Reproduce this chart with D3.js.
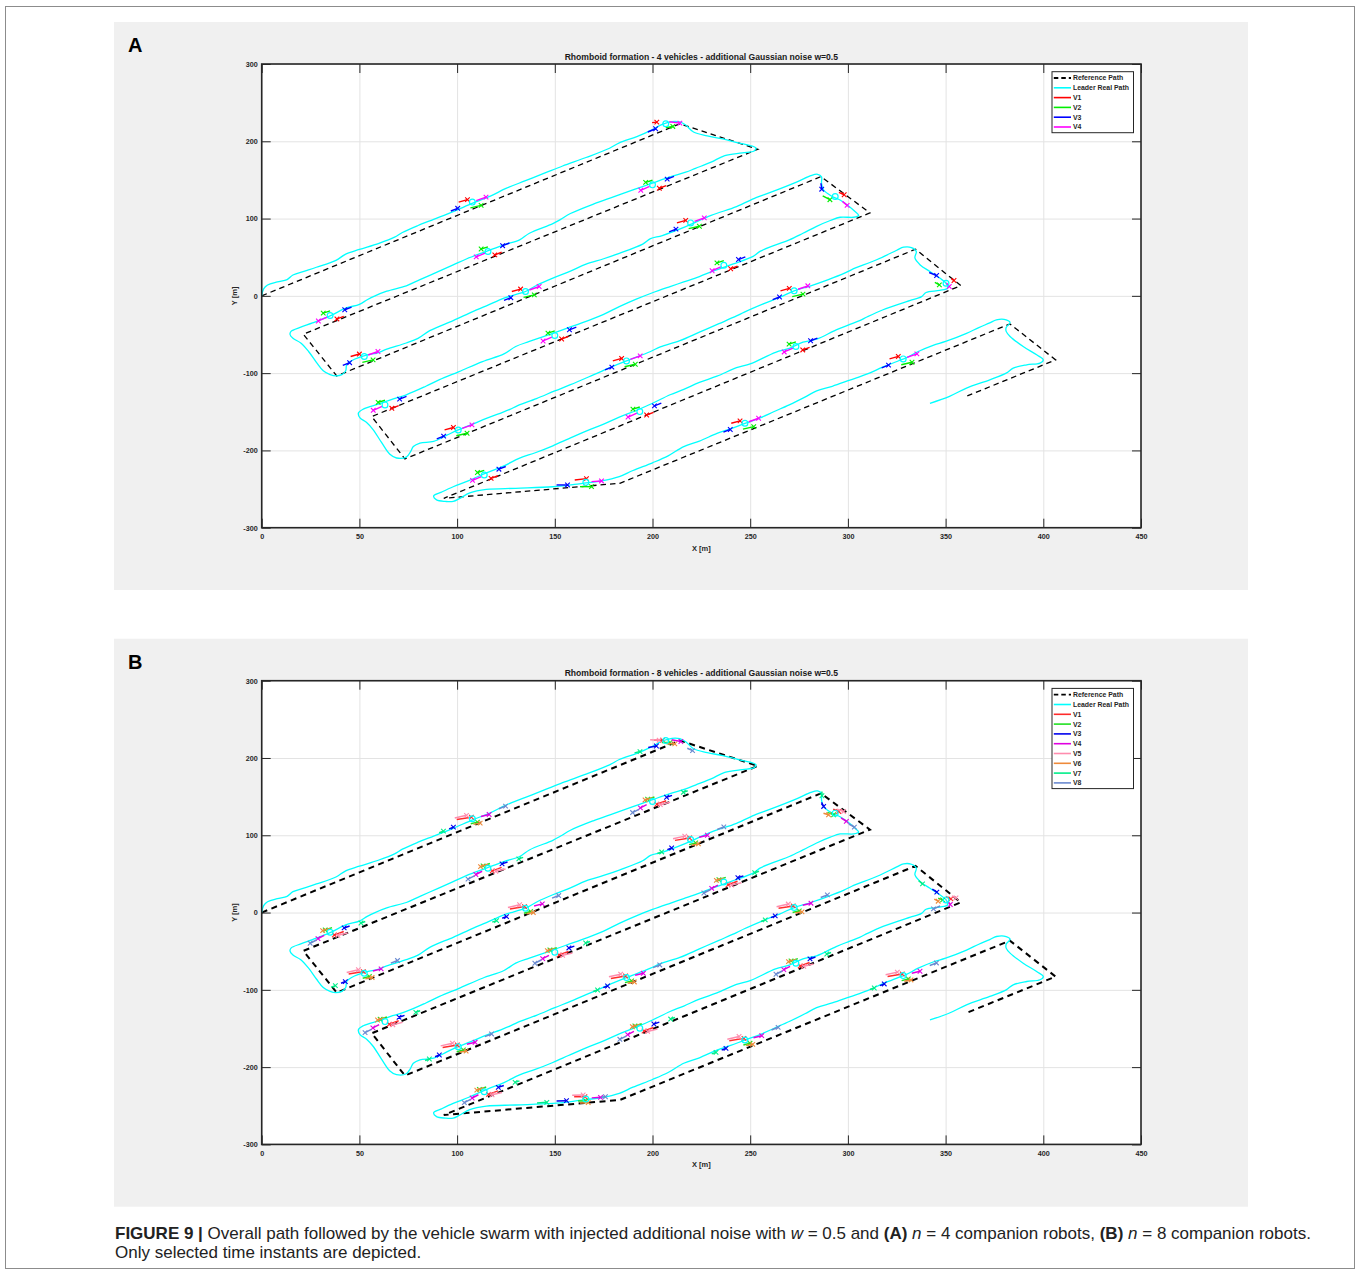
<!DOCTYPE html>
<meta charset="utf-8">
<style>
body { margin: 0; background: #fff; }
svg { display: block; font-family: "Liberation Sans", Arial, sans-serif; }
.lbl text { font-weight: bold; font-size: 7.2px; fill: #262626; }
.grid line { stroke: #e3e3e3; stroke-width: 1px; }
.ticks line { stroke: #262626; stroke-width: 1px; }
</style>
<body>
<script src="https://cdn.jsdelivr.net/npm/d3@7"></script>
<script>
var xTicks = [0, 50, 100, 150, 200, 250, 300, 350, 400, 450];
var yTicks = [-300, -200, -100, 0, 100, 200, 300];

// planned lawnmower path (dashed)
var refPath = [[0,0],[214,222.6],[253.9,189.7],[21.3,-49.6],[38.4,-103.6],[286.2,154.3],[311.3,107.3],
  [56.3,-156.2],[73.3,-211],[334.6,60.3],[357.8,13.2],[93.2,-262],[183.3,-242.5],[382.9,-36.3],
  [406.3,-82.9],[361.1,-129.5]];

// leader real path (cyan)
var leaderPath = [[0,0],[1,9],[3,14],[8,18],[13,21],[16,27],[22,32],[28,37],[38,46],[43,54],[50,60],[60,68],
  [68,76],[72,82],[80,91],[88,99],[98,109],[108,120],[117,129],[125,139],[135,149],[145,159],[154,168],
  [166,179],[178,191],[183,198],[192,206],[200,215],[205,222],[210,225.5],[214,225],[217,221],[221,212],
  [228,207],[236,203],[244,198],[250,194.5],[253,191],[252,187.5],[246,185],[237,181.5],[230,173],[222,165],
  [217,160],[209,154],[200,146],
  [190,137],[180,128],[170,119],[158,106.5],[153,99],[149,93.5],[137,81],[132,72.5],[124,66],[115,57.5],
  [105,48],[98,40],[90,31],[81,21],[74,13],[64,6],[58,0],[54,-5],[50,-11],[43,-16],[35,-26],[26,-35],
  [20,-40.5],[15,-46],[14.5,-50],[16,-55],[20,-61],[24,-72],[28,-86],[31.5,-97],[35,-102],[38,-103.6],
  [41,-102],[43,-97],[43.5,-89],[46,-84],
  [54,-76.5],[59,-74],[64,-69],[74,-61],[80,-55],[86,-45],[98,-32],[108,-20.5],[115,-13],[124,-3],[129,1],
  [135,5.6],[141,14],[149,23],[158,32],[166,41],[175,48],[183,55],[195,67],[199,74],[205,78],[217,89.5],
  [230,104],[243,115.5],[253,127],[260,133.5],[274,147.5],[281,155.5],[284.5,157.3],[286.5,154],[286.5,146],
  [287.5,137],[292,128.5],[296,124],[299.5,118],[303.5,109.5],[305.5,104],[303,101.7],[296,101.7],[291,97.5],
  [284,90],[277,81],[270,72.5],[262,65],[255,57.5],[251.5,51],[241,41],[232,33],[224,25],[216,18],[209,12],
  [200,4],[192,-4],[183,-14],[175,-24],[166,-33],[156,-42],[149,-48.5],[137,-59],[130,-65.5],[124,-75],
  [113,-85],[101,-98],[91,-108.5],[84,-117],[74,-128],[67,-133.5],[60.5,-139.5],[52,-146.5],[49.5,-151.5],
  [50.3,-158],[53.7,-163.8],[57,-173],[61.4,-190],[65.6,-205],[69,-209.8],[74,-208.6],[76.2,-201.5],
  [77.6,-195],[81,-190.5],[88,-188.4],
  [95,-180],[100.6,-173.5],[108,-166],[115,-158.5],[122,-152],[127,-147],[131,-142],[140.6,-133],[150,-123],
  [158,-115],[170,-102],[180,-91],[186.7,-84.2],[199,-72],[204,-66],[214,-58],[224,-47],[234,-36],[243,-26],
  [247,-21],[257,-10],[265,-2],[272.5,6.5],[281,13],[290,21],[298,29],[302,34],[315,47],[325,59],[328.5,63],
  [332.5,62.5],[335,57.5],[334.3,49],[337,40],[342,31.5],[347,23],[350.5,15.5],[351,10],[347,7],[340,4.3],
  [337.7,-1],
  [332,-6],[327,-10],[318,-18],[310,-27],[306,-32],[301,-37],[294,-44],[284,-56],[277,-60],[270,-68],
  [263,-73],[250,-88],[243,-93],[233,-104],[224,-112],[216,-121],[209,-128],[200,-139],[192,-148],[183,-157],
  [175,-166],[166,-175],[157,-185],[149,-194],[140,-203],[132,-210],[124,-220],[115,-229],[106,-239],
  [98,-247],[92,-254],[88,-259],[89.5,-264],[94,-266],[98,-266],[101.4,-262],[106.5,-255],[115,-250.5],
  [130,-249],[149,-247],[160,-244],[166,-242],[174,-239.5],
  [183,-234],[190,-226],[200,-216],[208,-207],[216,-195],[224,-188],[233,-178],[240,-172],[247.3,-165],
  [255,-158],[262,-150],[270,-141],[278,-131],[284,-123],[292,-117],[301,-109],[310,-101],[318,-92],
  [326,-84],[330,-80],[336,-72],[343.6,-64],[350,-59],[360.7,-48.5],[367,-41],[372.6,-35],[376,-31],
  [381,-31],[383,-34.5],[381,-41],[381,-46],[383,-52.5],[389.7,-65.5],[396.6,-76.3],[400,-82.8],[398.3,-87],
  [391.5,-89.2],[384.6,-93.5],[381,-100],[372.6,-108.6],[360.7,-119.4],[352,-130],[342,-139]];

// selected time instants: leader position and travel direction
var instX = [107.8,206.8,200,115.8,35,293.5,219.5,135,52.5,236.5,150,63.1,272.5,186.7,100.6,350.2,273.4,193.5,113.9,165.9,247.3,328.3];
var instY = [121.3,222.6,143.6,57.4,-25.5,128.6,94.4,5.6,-78.5,39.5,-51.4,-141.1,6.5,-84.2,-173.5,16.4,-65.6,-149.8,-231.8,-241.3,-164.9,-81.6];
var instDir = ['UR','TOP','DL','DL','DL','C34','UR','UR','UR','DL','DL','DL','UR','UR','UR','C56','DL','DL','DL','BOT','UR','UR'];

// companion positions relative to the leader: [trail x, trail y, vehicle x, vehicle y]
var formA_UR  = [[-7,0,-2.5,3.2],[-1,-7.5,4.5,-4.3],[-11,-11.5,-7.5,-8],[2,2,7,6.5]];
var formA_DL  = [[7,-1,3.5,-4.4],[0,6,-3.5,3.2],[11,11,7.5,7.5],[-1.5,-2,-6,-7]];
var formA_TOP = [[-7,1.5,-4.6,2.2],[0,-5,3.6,-3.4],[-9.2,-10.6,-5.2,-6.4],[1.8,2.6,7.2,0.9]];
var formA_C34 = [[1.9,5.2,4.6,2.2],[-6.4,0.9,-2.7,-4.2],[-7.3,17.1,-6.9,9.4],[3.7,-6.4,6.1,-11.5]];
var formA_C56 = [[2.8,5.2,4.1,3.5],[-5.7,0.9,-3.4,-2.2],[-8.6,13.8,-4.8,9.9],[0.3,0,1.7,-4.3]];
var formA_BOT = [[-5.7,3,0.3,4.8],[-3,-5.6,2.9,-5.6],[-15,-3.4,-9.4,-3.4],[2.9,0.9,8,1.8]];

var formB_UR  = [[-8,-1,-0.5,2.1],[-0.8,-6.5,2.6,-4.3],[-11.9,-13,-9.7,-10.8],[4.4,3,8.6,5.6],
                 [-9,1,-3,4.5],[0.6,-7.2,4,-5.6],[-17,-18,-14.8,-16],[13.6,13,17,16.4]];
var formB_DL  = [[7,1,2.2,-3.5],[1,6,-2.5,3],[10,8,7.2,5.6],[-3,-4,-6.2,-8.2],
                 [9,-1,4,-4],[0,5,-3.8,2.1],[18,14,15.8,12],[-7,-10,-10.2,-14.2]];
var formB_TOP = [[-6,0.4,-1.7,0.4],[-2,-2.6,2.2,-2.6],[-9,-9,-4.8,-7.1],[3,1,7.7,-1.3],
                 [-8,1,-3.4,0.4],[0,-4,4.6,-4.3],[-16,-16,-13.2,-14.3],[11,-10,13.7,-13]];
var formB_C34 = [[-1,5,1.8,2.2],[-4,1,-0.8,-2.1],[-7,14,-5.9,8.7],[3,-6,5.7,-10.7],
                 [1,5,4.3,2.2],[-6,0,-3.4,-2.1],[-6.8,28,-6.8,22.5],[7,-14,9.8,-18.1]];
var formB_C56 = [[0,4,2.5,1.3],[-4,2,-1.7,0],[-7,14,-4.7,10],[1,-2,2.2,-6],
                 [3,5,5.1,2.6],[-6,1,-4,-1.7],[-14,25,-12,20.7],[-3,-8,-6.4,-11.6]];
var formB_BOT = [[-6,3,-0.5,3],[-4,-2.5,0,-2.5],[-15,-2.5,-9.9,-2.1],[3,1.5,7.5,2.2],
                 [-7,5,-1.4,5.2],[-3,-5,1.2,-4.7],[-25,-5,-20,-4.3],[8,2.5,10,3]];

var namesA = ['V1','V2','V3','V4'];
var colorsA = ['#ff0000','#00ee00','#0000ff','#ff00ff'];
var namesB = ['V1','V2','V3','V4','V5','V6','V7','V8'];
var colorsB = ['#ff2a2a','#22e022','#0000ee','#e000e0','#ff8cae','#ee8a3a','#00ee88','#6a8ad0'];

var width = 1360, height = 1286;

var svg = d3.select("body").append("svg")
    .attr("width", width)
    .attr("height", height);

// figure frame
svg.append("rect")
    .attr("x", 5.5).attr("y", 6.5)
    .attr("width", 1349).attr("height", 1262)
    .attr("fill", "none").attr("stroke", "#8c8c8c").attr("stroke-width", 1);

function drawPanel(top, letter, title, names, colors, form, refWidth, vehWidth) {
  svg.append("rect")
      .attr("x", 114).attr("y", top - 42)
      .attr("width", 1134).attr("height", 568)
      .attr("fill", "#f0f0f0");

  svg.append("text")
      .attr("x", 128).attr("y", top - 12)
      .attr("font-size", 20).attr("font-weight", "bold")
      .text(letter);

  var x = d3.scaleLinear().domain([0, 450]).range([261.7, 1141]);
  var y = d3.scaleLinear().domain([-300, 300]).range([top + 463.7, top]);
  var x0 = x(0), x1 = x(450), y0 = y(-300), y1 = y(300);

  svg.append("rect")
      .attr("x", x0).attr("y", y1)
      .attr("width", x1 - x0).attr("height", y0 - y1)
      .attr("fill", "#fff");

  // grid
  svg.append("g").attr("class", "grid")
      .attr("transform", "translate(0," + y0 + ")")
      .call(d3.axisBottom(x).tickValues(xTicks).tickSize(-(y0 - y1)).tickFormat(""))
      .call(g => g.select(".domain").remove());
  svg.append("g").attr("class", "grid")
      .attr("transform", "translate(" + x0 + ",0)")
      .call(d3.axisLeft(y).tickValues(yTicks).tickSize(-(x1 - x0)).tickFormat(""))
      .call(g => g.select(".domain").remove());

  var plot = svg.append("g");

  var line = d3.line().x(d => x(d[0])).y(d => y(d[1]));
  var smooth = d3.line().x(d => x(d[0])).y(d => y(d[1])).curve(d3.curveCatmullRom.alpha(0.5));

  plot.append("path")
      .attr("d", line(refPath))
      .attr("fill", "none").attr("stroke", "#000")
      .attr("stroke-width", refWidth)
      .attr("stroke-dasharray", refWidth > 1.5 ? "6,4.5" : "5.5,4");

  plot.append("path")
      .attr("d", smooth(leaderPath))
      .attr("fill", "none").attr("stroke", "#00ffff")
      .attr("stroke-width", 1.3);

  // companions at the selected instants
  instX.forEach(function(ix, i) {
    var iy = instY[i];
    form[instDir[i]].forEach(function(o, k) {
      var c = colors[k];
      var ex = x(ix + o[2]), ey = y(iy + o[3]);
      plot.append("line")
          .attr("x1", x(ix + o[0])).attr("y1", y(iy + o[1]))
          .attr("x2", ex).attr("y2", ey)
          .attr("stroke", c).attr("stroke-width", vehWidth);
      plot.append("path")
          .attr("d", "M" + (ex - 2.3) + "," + (ey - 2.3) + "L" + (ex + 2.3) + "," + (ey + 2.3) +
                     "M" + (ex - 2.3) + "," + (ey + 2.3) + "L" + (ex + 2.3) + "," + (ey - 2.3))
          .attr("stroke", c).attr("stroke-width", 1.1);
    });
    plot.append("circle")
        .attr("cx", x(ix)).attr("cy", y(iy)).attr("r", 2.9)
        .attr("fill", "none").attr("stroke", "#00ffff").attr("stroke-width", 1.2);
  });

  // axes, MATLAB style box with inward ticks
  svg.append("g").attr("class", "lbl ticks")
      .attr("transform", "translate(0," + y0 + ")")
      .call(d3.axisBottom(x).tickValues(xTicks).tickSize(-9).tickPadding(6).tickFormat(d => String(d)))
      .call(g => g.select(".domain").remove());
  svg.append("g").attr("class", "lbl ticks")
      .attr("transform", "translate(" + x0 + ",0)")
      .call(d3.axisLeft(y).tickValues(yTicks).tickSize(-9).tickPadding(4).tickFormat(d => String(d)))
      .call(g => g.select(".domain").remove());
  svg.append("g").attr("class", "ticks")
      .attr("transform", "translate(0," + y1 + ")")
      .call(d3.axisTop(x).tickValues(xTicks).tickSize(-9).tickFormat(""))
      .call(g => g.select(".domain").remove());
  svg.append("g").attr("class", "ticks")
      .attr("transform", "translate(" + x1 + ",0)")
      .call(d3.axisRight(y).tickValues(yTicks).tickSize(-9).tickFormat(""))
      .call(g => g.select(".domain").remove());

  svg.append("rect")
      .attr("x", x0).attr("y", y1)
      .attr("width", x1 - x0).attr("height", y0 - y1)
      .attr("fill", "none").attr("stroke", "#262626").attr("stroke-width", 1.6);

  svg.append("text")
      .attr("x", (x0 + x1) / 2).attr("y", top - 4.5)
      .attr("text-anchor", "middle")
      .attr("font-size", 8.6).attr("font-weight", "bold").attr("fill", "#1a1a1a")
      .text(title);

  svg.append("text")
      .attr("x", (x0 + x1) / 2).attr("y", y0 + 23)
      .attr("text-anchor", "middle")
      .attr("font-size", 7.5).attr("font-weight", "bold").attr("fill", "#262626")
      .text("X [m]");

  svg.append("text")
      .attr("transform", "translate(237," + ((y0 + y1) / 2) + ") rotate(-90)")
      .attr("text-anchor", "middle")
      .attr("font-size", 7.5).attr("font-weight", "bold").attr("fill", "#262626")
      .text("Y [m]");

  // legend
  var rows = [{name: "Reference Path", color: "#000", dash: true},
              {name: "Leader Real Path", color: "#00ffff"}]
      .concat(names.map((n, k) => ({name: n, color: colors[k]})));
  var lg = svg.append("g").attr("transform", "translate(1052," + (top + 7.7) + ")");
  lg.append("rect")
      .attr("width", 81.5).attr("height", rows.length * 9.8 + 2.2)
      .attr("fill", "#fff").attr("stroke", "#262626").attr("stroke-width", 1);
  var row = lg.selectAll("g.row").data(rows).enter().append("g")
      .attr("class", "row")
      .attr("transform", (d, i) => "translate(0," + (6.3 + i * 9.8) + ")");
  row.append("line")
      .attr("x1", 1.8).attr("x2", 19)
      .attr("stroke", d => d.color)
      .attr("stroke-width", d => d.dash ? 1.8 : 1.6)
      .attr("stroke-dasharray", d => d.dash ? "4.5,3" : null);
  row.append("text")
      .attr("x", 21).attr("dy", "0.35em")
      .attr("font-size", 6.9).attr("font-weight", "bold").attr("fill", "#262626")
      .text(d => d.name);
}

drawPanel(64, "A", "Rhomboid formation - 4 vehicles - additional Gaussian noise w=0.5",
  namesA, colorsA,
  {UR: formA_UR, DL: formA_DL, TOP: formA_TOP, C34: formA_C34, C56: formA_C56, BOT: formA_BOT}, 1.3, 1.4);

drawPanel(680.7, "B", "Rhomboid formation - 8 vehicles - additional Gaussian noise w=0.5",
  namesB, colorsB,
  {UR: formB_UR, DL: formB_DL, TOP: formB_TOP, C34: formB_C34, C56: formB_C56, BOT: formB_BOT}, 2, 1.5);

// caption
var cap = svg.append("text")
    .attr("x", 115).attr("y", 1239)
    .attr("font-size", 17).attr("fill", "#222");
cap.append("tspan").attr("font-weight", "bold").text("FIGURE 9 |");
cap.append("tspan").text(" Overall path followed by the vehicle swarm with injected additional noise with ");
cap.append("tspan").attr("font-style", "italic").text("w");
cap.append("tspan").text(" = 0.5 and ");
cap.append("tspan").attr("font-weight", "bold").text("(A)");
cap.append("tspan").text(" ");
cap.append("tspan").attr("font-style", "italic").text("n");
cap.append("tspan").text(" = 4 companion robots, ");
cap.append("tspan").attr("font-weight", "bold").text("(B)");
cap.append("tspan").text(" ");
cap.append("tspan").attr("font-style", "italic").text("n");
cap.append("tspan").text(" = 8 companion robots.");

svg.append("text")
    .attr("x", 115).attr("y", 1258)
    .attr("font-size", 17).attr("fill", "#222")
    .text("Only selected time instants are depicted.");
</script>
</body>
</html>
